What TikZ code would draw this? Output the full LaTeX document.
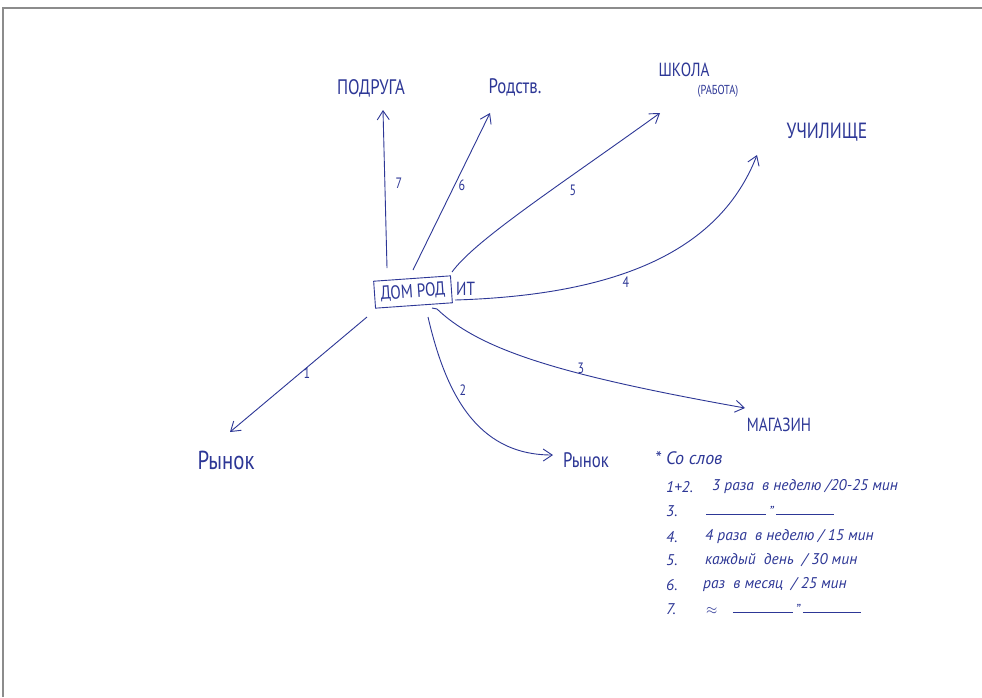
\documentclass[tikz,border=0pt]{standalone}
\usepackage{fontspec}
\setmainfont{PT Sans}
\newfontfamily\hand[FakeStretch=0.8]{PT Sans}
\usetikzlibrary{arrows.meta,calc}
\definecolor{ink}{RGB}{45,55,150}
\definecolor{frame}{RGB}{140,140,140}
\begin{document}
\begin{tikzpicture}[x=1pt,y=-1pt,
  place/.style={text=ink, inner sep=1pt, font=\hand\fontsize{#1}{#1}\selectfont},
  place/.default=20,
  elabel/.style={text=ink, inner sep=0pt, font=\hand\fontsize{15}{17}\selectfont},
  conn/.style={draw=ink, line width=0.9pt, -{Straight Barb[length=9pt,width=12pt]}},
  legendnum/.style={text=ink, anchor=west, inner sep=0pt, font=\itshape\fontsize{15.5}{17}\selectfont},
  legendtxt/.style={text=ink, anchor=west, inner sep=0pt, font=\itshape\fontsize{15.5}{17}\selectfont},
  homebox/.style={draw=ink, line width=0.9pt, text=ink, inner sep=1pt, minimum width=77pt, minimum height=27pt, rotate=4, font=\hand\fontsize{19}{19}\selectfont}
]
\useasboundingbox (0,0) rectangle (982,697);
\fill[white] (0,0) rectangle (982,697);
% page frame
\draw[frame, line width=1.5pt] (3,697) -- (3,8) -- (982,8);

% nodes
\node[homebox] (home) at (413,292) {ДОМ РОД};
\node[place=19, anchor=west] (homeb) at (455,289) {ИТ};
\node[place=21] (podruga) at (371,88) {ПОДРУГА};
\node[place=21] (rodstv) at (515,87) {Родств.};
\node[place=19] (shkola) at (684,70) {ШКОЛА};
\node[place=13] (rabota) at (718,91) {(РАБОТА)};
\node[place=22] (uchil) at (827,132) {УЧИЛИЩЕ};
\node[place=19] (magazin) at (779,425) {МАГАЗИН};
\node[place=26] (rynokL) at (226,460) {Рынок};
\node[place=21] (rynokR) at (586,460) {Рынок};

% connectors
\draw[conn] ($(home.center)+(-26,-24)$) -- ($(podruga.center)+(12,22)$);
\draw[conn] ($(home.center)+(0,-22)$) -- ($(rodstv.center)+(-25,26)$);
\draw[conn] ($(home.center)+(39,-20)$) .. controls ($(home.center)+(62,-52)$) and ($(shkola.center)+(-124,115)$) .. ($(shkola.center)+(-24,43)$);
\draw[conn] ($(home.center)+(42,8)$) .. controls ($(home.center)+(207,3)$) and ($(uchil.center)+(-107,118)$) .. ($(uchil.center)+(-70,23)$);
\draw[conn] ($(home.center)+(19,16)$) -- ($(home.center)+(24,17)$) .. controls ($(home.center)+(67,58)$) and ($(magazin.center)+(-219,-50)$) .. ($(magazin.center)+(-34,-17)$);
\draw[conn] ($(home.center)+(15,25)$) .. controls ($(home.center)+(32,98)$) and ($(rynokR.center)+(-111,-5)$) .. ($(rynokR.center)+(-33,-5)$);
\draw[conn] ($(home.center)+(-46,25)$) -- ($(rynokL.center)+(4,-28)$);

% connector labels
\node[elabel] (l1) at (307,373) {1};
\node[elabel] (l2) at (463,390) {2};
\node[elabel] (l3) at (581,368) {3};
\node[elabel] (l4) at (626,282) {4};
\node[elabel] (l5) at (573,190) {5};
\node[elabel] (l6) at (462,185) {6};
\node[elabel] (l7) at (399,183) {7};

% legend
\node[legendnum, font=\itshape\fontsize{18}{19}\selectfont] (lh) at (655,458) {* Со слов};
\node[legendnum] (n12) at (666,487) {1+2.};
\node[legendtxt] (t12) at (712,487) {3 раза \ в неделю /20-25 мин};
\node[legendnum] (n3) at (666,511) {3.};
\node[legendtxt] (t3) at (706,511) {\raisebox{0.2ex}{\rule{60pt}{0.7pt}}\,{\Large ”}\,\raisebox{0.2ex}{\rule{58pt}{0.7pt}}};
\node[legendnum] (n4) at (666,537) {4.};
\node[legendtxt] (t4) at (705,537) {4 раза \ в неделю / 15 мин};
\node[legendnum] (n5) at (666,560) {5.};
\node[legendtxt] (t5) at (705,560) {каждый \ день \ / 30 мин};
\node[legendnum] (n6) at (666,585) {6.};
\node[legendtxt] (t6) at (703,585) {раз \ в месяц \ / 25 мин};
\node[legendnum] (n7) at (666,609) {7.};
\node[legendtxt] (t7) at (706,609) {$\approx$\quad\raisebox{0.2ex}{\rule{60pt}{0.7pt}}\,{\Large ”}\,\raisebox{0.2ex}{\rule{58pt}{0.7pt}}};
\end{tikzpicture}
\end{document}
